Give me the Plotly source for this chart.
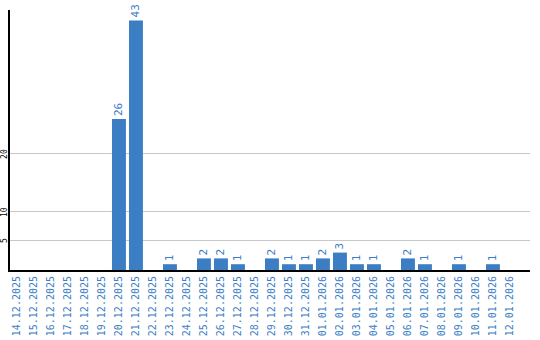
import plotly.graph_objects as go

dates = ["14.12.2025","15.12.2025","16.12.2025","17.12.2025","18.12.2025","19.12.2025",
         "20.12.2025","21.12.2025","22.12.2025","23.12.2025","24.12.2025","25.12.2025",
         "26.12.2025","27.12.2025","28.12.2025","29.12.2025","30.12.2025","31.12.2025",
         "01.01.2026","02.01.2026","03.01.2026","04.01.2026","05.01.2026","06.01.2026",
         "07.01.2026","08.01.2026","09.01.2026","10.01.2026","11.01.2026","12.01.2026"]
values = [0,0,0,0,0,0,26,43,0,1,0,2,2,1,0,2,1,1,2,3,1,1,0,2,1,0,1,0,1,0]
ytick_vals = [5, 10, 20]

blue = "#3b7ec4"
labels = [str(v) if v > 0 else "" for v in values]

fig = go.Figure(go.Bar(
    x=list(range(len(dates))), y=values, text=labels,
    textposition="outside", textangle=-90, cliponaxis=False,
    textfont=dict(family="DejaVu Sans Mono", size=11, color=blue),
    marker=dict(color=blue, line=dict(width=0)),
))
fig.update_layout(
    width=540, height=340, margin=dict(l=10, r=10, t=10, b=70, autoexpand=False),
    paper_bgcolor="white", plot_bgcolor="white", bargap=0.18,
    showlegend=False,
)
for v in ytick_vals:
    fig.add_annotation(
        xref="paper", yref="y", x=0, y=v, text=str(v), showarrow=False,
        textangle=-90, xanchor="center", yanchor="middle", xshift=-5,
        font=dict(family="DejaVu Sans Mono", size=8, color="black"),
    )
fig.update_xaxes(
    tickmode="array", tickvals=list(range(len(dates))), ticktext=dates,
    tickangle=-90, tickfont=dict(family="DejaVu Sans Mono", size=10, color=blue),
    range=[-0.41, 30.18], showline=True, linecolor="black", linewidth=2,
    showgrid=False, ticks="", zeroline=False, automargin=False,
)
fig.update_yaxes(
    tickmode="array", tickvals=ytick_vals, showticklabels=False,
    range=[0, 44.8], showline=True, linecolor="black", linewidth=2,
    showgrid=True, gridcolor="#c8c8c8", gridwidth=1, ticks="", zeroline=False,
    automargin=False,
)
fig.write_html("out.html")
